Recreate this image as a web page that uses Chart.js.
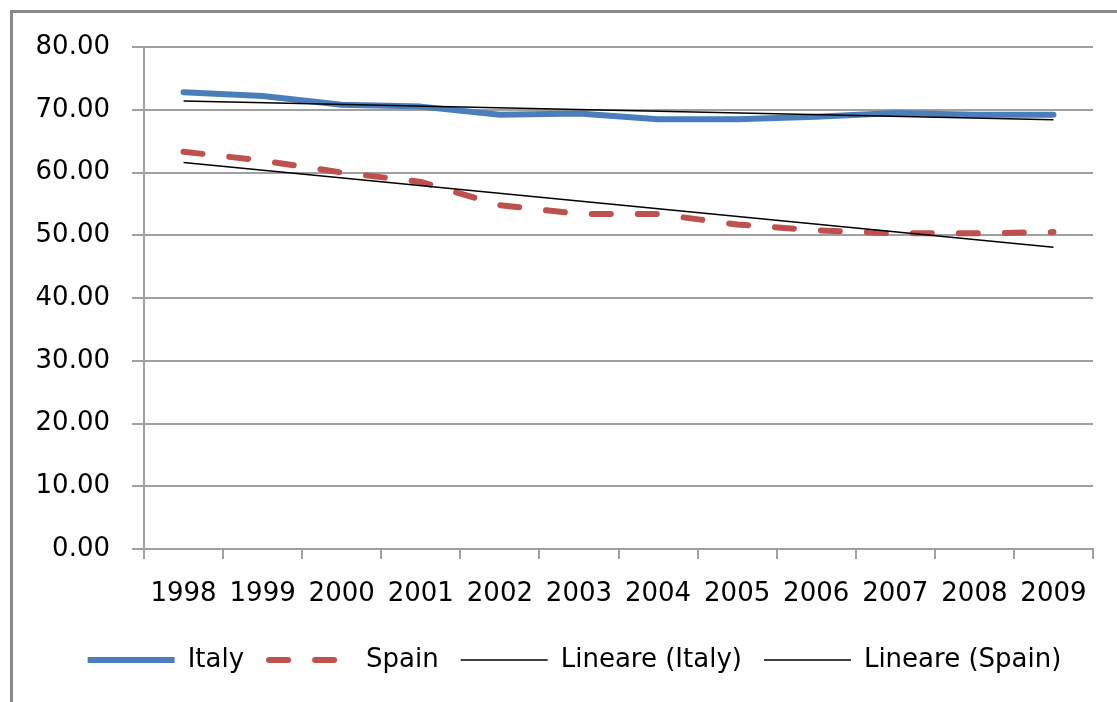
<!DOCTYPE html>
<html>
<head>
<meta charset="utf-8">
<script src="https://cdn.jsdelivr.net/npm/chart.js@4.4.0/dist/chart.umd.min.js"></script>
<style>
    body { margin: 0; background: #ffffff; }
    #contenedor { position: relative; width: 1117px; height: 702px; }
</style>
</head>
<body>
<div id="contenedor"><canvas id="grafico" width="1117" height="702"></canvas></div>
<script>
const anios = ["1998", "1999", "2000", "2001", "2002", "2003", "2004", "2005", "2006", "2007", "2008", "2009"]
const italy = [72.8, 72.2, 70.8, 70.5, 69.2, 69.4, 68.5, 68.5, 68.9, 69.5, 69.2, 69.2]
const spain = [63.3, 61.9, 60.0, 58.5, 54.8, 53.4, 53.4, 51.7, 50.8, 50.3, 50.3, 50.5]
const lineare_italy = [71.4, null, null, null, null, null, null, null, null, null, null, 68.4]
const lineare_spain = [61.6, null, null, null, null, null, null, null, null, null, null, 48.1]
const ticks_y = [0, 10, 20, 30, 40, 50, 60, 70, 80]

Chart.defaults.font.family = "'DejaVu Sans', sans-serif"
Chart.defaults.font.size = 26
Chart.defaults.color = "#000000"

// grey frame round the chart (left and top edges are visible)
const marco = {
    id: "marco",
    beforeDraw(chart) {
        const ctx = chart.ctx
        ctx.save()
        ctx.fillStyle = "#ffffff"
        ctx.fillRect(0, 0, chart.width, chart.height)
        ctx.fillStyle = "#8a8a8a"
        ctx.fillRect(10, 10, 3, chart.height - 10)
        ctx.fillRect(10, 10, chart.width - 10, 3)
        ctx.restore()
    },
    afterLayout(chart) {
        // legend row sits a bit to the right of the page centre
        chart.legend.left += 10
        chart.legend.right += 10
    }
}

// dashed sample for the Spain legend entry (pointStyle 'line' ignores borderDash)
function muestra_discontinua(color, ancho) {
    const c = document.createElement("canvas")
    c.width = ancho
    c.height = 8
    const ctx = c.getContext("2d")
    ctx.strokeStyle = color
    ctx.lineWidth = 6
    ctx.lineCap = "round"
    ctx.setLineDash([19, 27])
    ctx.beginPath()
    ctx.moveTo(3, 4)
    ctx.lineTo(ancho - 3, 4)
    ctx.stroke()
    return c
}

function crear_grafico() {
    const $grafica = document.querySelector("#grafico")
    new Chart($grafica, {
        type: "line",
        data: {
            labels: anios,
            datasets: [
                {
                    label: "Italy",
                    data: italy,
                    borderColor: "#4a7ebb",
                    borderWidth: 6,
                    borderCapStyle: "round",
                    borderJoinStyle: "round",
                    pointRadius: 0,
                    order: 2
                },
                {
                    label: "Spain",
                    data: spain,
                    borderColor: "#c0504d",
                    borderWidth: 6,
                    borderDash: [19, 27],
                    borderCapStyle: "round",
                    pointRadius: 0,
                    order: 3
                },
                {
                    label: "Lineare (Italy)",
                    data: lineare_italy,
                    borderColor: "#000000",
                    borderWidth: 1.5,
                    pointRadius: 0,
                    spanGaps: true,
                    order: 0
                },
                {
                    label: "Lineare (Spain)",
                    data: lineare_spain,
                    borderColor: "#000000",
                    borderWidth: 1.5,
                    pointRadius: 0,
                    spanGaps: true,
                    order: 1
                }
            ]
        },
        options: {
            responsive: false,
            animation: false,
            devicePixelRatio: 1,
            layout: {
                padding: { left: 36, right: 24, top: 47, bottom: 19 }
            },
            scales: {
                x: {
                    offset: true,
                    grid: {
                        offset: true,
                        drawOnChartArea: false,
                        drawTicks: true,
                        tickLength: 10,
                        color: "#a0a0a0",
                        lineWidth: 2
                    },
                    border: { color: "#a0a0a0", width: 2 },
                    ticks: { padding: 20, maxRotation: 0, autoSkip: false },
                    afterFit(scale) { scale.height = 76 }
                },
                y: {
                    min: 0,
                    max: 80,
                    afterBuildTicks(scale) {
                        scale.ticks = ticks_y.map(v => ({ value: v }))
                    },
                    grid: {
                        color: "#a0a0a0",
                        lineWidth: 2,
                        tickLength: 12
                    },
                    border: { color: "#a0a0a0", width: 2 },
                    ticks: {
                        padding: 22,
                        callback: v => v.toFixed(2)
                    },
                    afterFit(scale) { scale.width = 108 }
                }
            },
            plugins: {
                legend: {
                    display: true,
                    position: "bottom",
                    labels: {
                        usePointStyle: true,
                        pointStyle: "line",
                        pointStyleWidth: 87,
                        padding: 22,
                        color: "#000000",
                        generateLabels(chart) {
                            const items = Chart.defaults.plugins.legend.labels.generateLabels(chart)
                            items.sort((a, b) => a.datasetIndex - b.datasetIndex)
                            items[1].pointStyle = muestra_discontinua("#c0504d", 87)
                            return items
                        }
                    }
                },
                tooltip: { enabled: false }
            }
        },
        plugins: [marco]
    })
}

crear_grafico()
</script>
</body>
</html>
